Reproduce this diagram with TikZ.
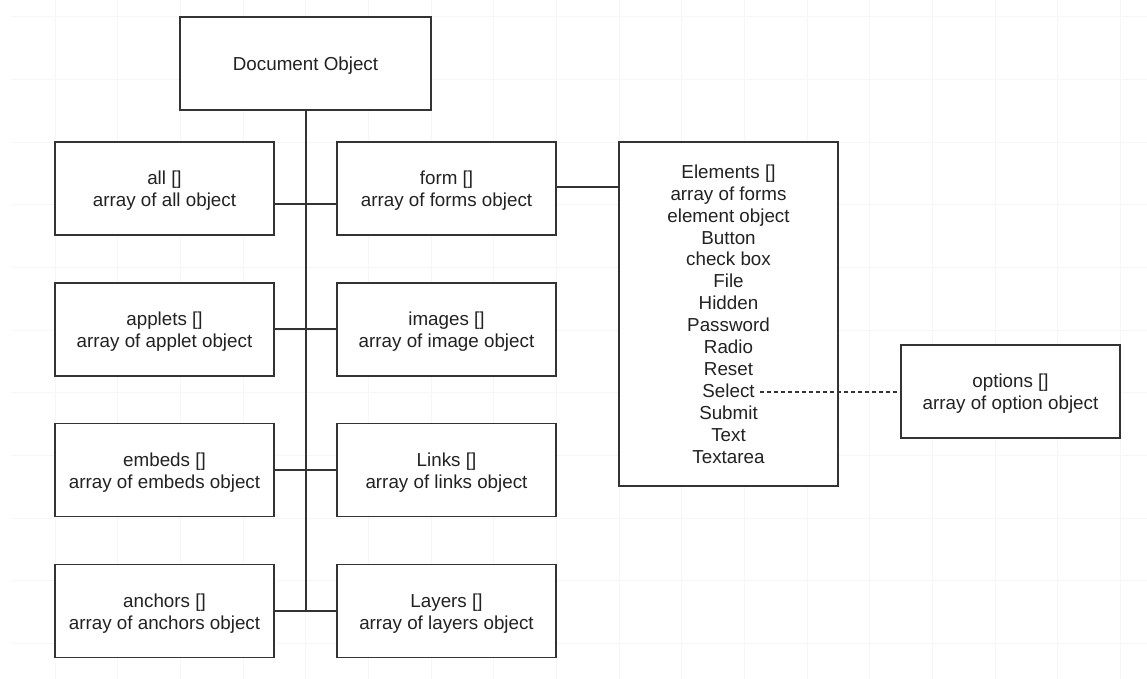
\documentclass[tikz,border=0pt]{standalone}
\usepackage{fontspec}
\setmainfont{Liberation Sans}
\definecolor{linec}{HTML}{333333}
\definecolor{textc}{HTML}{222222}
\definecolor{gridc}{HTML}{F6F6F6}
\tikzset{
  box/.style={draw=linec, line width=1.5pt, fill=white, rectangle, inner sep=0pt,
    minimum width=219pt, minimum height=93pt},
  txt/.style={align=center, text=textc, inner sep=0pt, yshift=-2.5pt,
    font=\fontsize{18.8}{21.9}\selectfont},
  etxt/.style={align=center, text=textc, inner sep=0pt,
    font=\fontsize{18.8}{21.9}\selectfont},
  conn/.style={draw=linec, line width=1.5pt},
  dashconn/.style={draw=linec, line width=1.5pt, dash pattern=on 4pt off 3pt},
  gridline/.style={draw=gridc, line width=0.8pt}
}
\begin{document}
\begin{tikzpicture}[x=1pt,y=-1pt]
\useasboundingbox (0,0) rectangle (1147,679);
% background grid
\foreach \k in {0,...,17} {
  \draw[gridline] ({55+62.66*\k},0) -- ({55+62.66*\k},679);
}
\foreach \k in {0,...,10} {
  \draw[gridline] (11,{16.7+62.66*\k}) -- (1147,{16.7+62.66*\k});
}
% junction coordinates
\coordinate (j1) at (306,204);
\coordinate (j2) at (306,329);
\coordinate (j3) at (306,470);
\coordinate (j4) at (306,611);
\coordinate (e1) at (600,187);
\coordinate (sel) at (760,392);
% boxes
\node[box, minimum width=251pt, label={[txt]center:{Document Object}}] (doc) at (305.5,63.5) {};
\node[box, label={[txt]center:{all []\\array of all object}}] (all) at (164.5,188.5) {};
\node[box, label={[txt]center:{form []\\array of forms object}}] (form) at (446.5,188.5) {};
\node[box, label={[txt]center:{applets []\\array of applet object}}] (applets) at (164.5,329.5) {};
\node[box, label={[txt]center:{images []\\array of image object}}] (images) at (446.5,329.5) {};
\node[box, label={[txt]center:{embeds []\\array of embeds object}}] (embeds) at (164.5,470) {};
\node[box, label={[txt]center:{Links []\\array of links object}}] (links) at (446.5,470) {};
\node[box, label={[txt]center:{anchors []\\array of anchors object}}] (anchors) at (164.5,611) {};
\node[box, label={[txt]center:{Layers []\\array of layers object}}] (layers) at (446.5,611) {};
\node[box, minimum height=344pt, label={[etxt]center:{Elements []\\array of forms\\element object\\Button\\check box\\File\\Hidden\\Password\\Radio\\Reset\\Select\\Submit\\Text\\Textarea}}] (elements) at (728.5,314) {};
\node[box, label={[txt]center:{options []\\array of option object}}] (options) at (1010.5,391.5) {};
% connectors
\draw[conn] (doc.south -| j1) -- (j4);
\draw[conn] (all.east |- j1) -- (form.west |- j1);
\draw[conn] (applets.east |- j2) -- (images.west |- j2);
\draw[conn] (embeds.east |- j3) -- (links.west |- j3);
\draw[conn] (anchors.east |- j4) -- (layers.west |- j4);
\draw[conn] (form.east |- e1) -- (elements.west |- e1);
\draw[dashconn] (sel) -- (options.west |- sel);
\end{tikzpicture}
\end{document}
